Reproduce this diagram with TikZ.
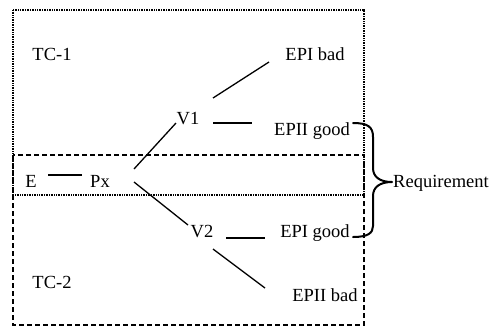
\documentclass[tikz,border=0pt]{standalone}
\usepackage{fontspec}
\setmainfont{Liberation Serif}
\begin{document}
\begin{tikzpicture}[x=1pt,y=-1pt,
  lbl/.style={anchor=base,inner sep=0pt,font=\fontsize{18.5}{20}\selectfont},
  conn/.style={line width=1.3pt},
  dotbox/.style={line width=1.3pt,dash pattern=on 1pt off 0.7pt},
  dashbox/.style={line width=1.3pt,dash pattern=on 5pt off 3pt},
  bracepath/.style={line width=2pt,line cap=round,line join=round}]
\useasboundingbox (0,0) rectangle (492,327);
% boxes
\draw[dotbox] (13,10) rectangle (364,195);
\draw[dashbox] (13,155) rectangle (364,325);
% labels
\node[lbl] (TC1) at (52,60) {TC-1};
\node[lbl] (TC2) at (52,288) {TC-2};
\node[lbl] (E) at (31,187) {E};
\node[lbl] (Px) at (100,187) {Px};
\node[lbl] (V1) at (188,124) {V1};
\node[lbl] (V2) at (202,237) {V2};
\node[lbl] (EPIbad) at (315,60) {EPI bad};
\node[lbl] (EPIIgood) at (312,135) {EPII good};
\node[lbl] (EPIgood) at (315,237) {EPI good};
\node[lbl] (EPIIbad) at (325,301) {EPII bad};
\node[lbl] (Req) at (441,187) {Requirement};
% connectors
\draw[conn] ([shift={(17,-12)}]E.base) -- ([shift={(-18,-12)}]Px.base);
\draw[conn] ([shift={(34,-18)}]Px.base) -- ([shift={(-12,-1)}]V1.base);
\draw[conn] ([shift={(34,-5)}]Px.base) -- ([shift={(-14,-12)}]V2.base);
\draw[conn] ([shift={(25,-26)}]V1.base) -- ([shift={(-46,2)}]EPIbad.base);
\draw[conn] ([shift={(25,-1)}]V1.base) -- ([shift={(-60,-12)}]EPIIgood.base);
\draw[conn] ([shift={(24,1)}]V2.base) -- ([shift={(-50,1)}]EPIgood.base);
\draw[conn] ([shift={(11,12)}]V2.base) -- ([shift={(-60,-13)}]EPIIbad.base);
% brace
\coordinate (B1) at ([shift={(41,-12)}]EPIIgood.base);
\coordinate (B2) at ([shift={(38,0)}]EPIgood.base);
\coordinate (Btip) at ([shift={(-49,-5)}]Req.base);
\draw[bracepath] (B1) .. controls (368,123) and (373,127) .. (373,137)
  -- (373,168) .. controls (373,177) and (380,182) .. (Btip)
  .. controls (380,182) and (373,187) .. (373,196)
  -- (373,226) .. controls (373,233) and (368,237) .. (B2);
\end{tikzpicture}
\end{document}
